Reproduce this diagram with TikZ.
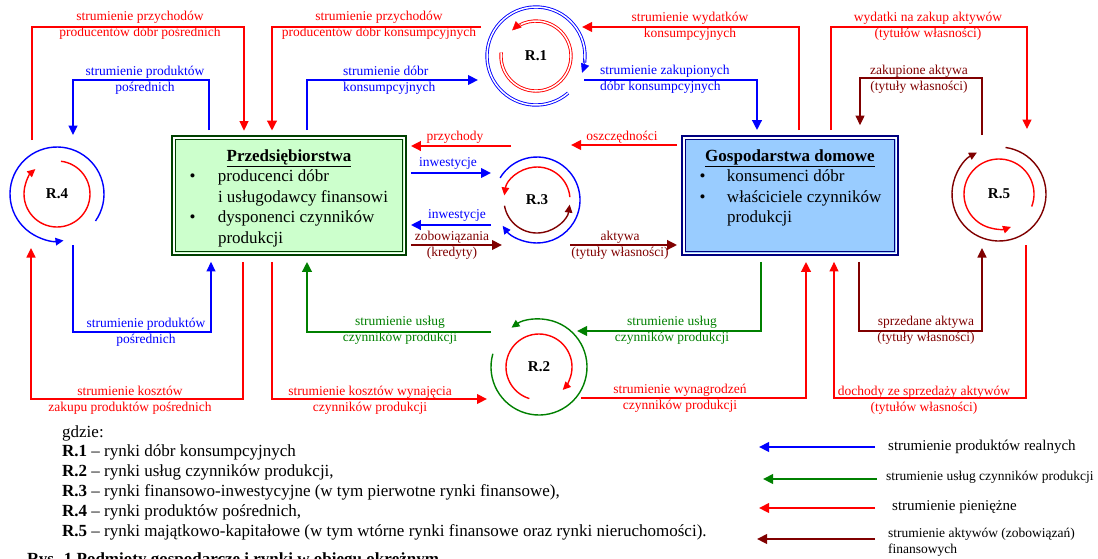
\documentclass[tikz,border=0pt]{standalone}
\usepackage{fontspec}
\setmainfont{Liberation Serif}
\usetikzlibrary{arrows.meta}
\definecolor{cR}{RGB}{255,0,0}
\definecolor{cB}{RGB}{0,0,255}
\definecolor{cG}{RGB}{0,128,0}
\definecolor{cM}{RGB}{128,0,0}
\definecolor{pfill}{RGB}{204,255,204}
\definecolor{pdraw}{RGB}{0,64,0}
\definecolor{gfill}{RGB}{153,204,255}
\definecolor{gdraw}{RGB}{0,0,128}
\newcommand\labfont{\fontsize{13.5}{16}\selectfont}
\newcommand\boxfont{\fontsize{17}{20.5}\selectfont}
\newcommand\legfont{\fontsize{17}{20}\selectfont}
\begin{document}
\begin{tikzpicture}[x=1pt,y=-1pt,
  lab/.style={font=\labfont,align=center,inner sep=0pt},
  labl/.style={font=\labfont,align=left,inner sep=0pt,anchor=west},
  thn/.style={line width=1.3pt,-{Triangle[length=9.5pt,width=9pt]}},
  thk/.style={line width=2.3pt,-{Triangle[length=10pt,width=9.5pt]}},
  ring/.style={line width=1.4pt},
  ringtip/.style={line width=1.4pt,-{Triangle[length=8pt,width=7.5pt]}},
  dring/.style={line width=0.9pt,double=white,double distance=1.5pt},
  dtip/.style={line width=0.5pt,-{Triangle[length=9pt,width=8.5pt]}},
  mkt/.style={circle,inner sep=0pt,font=\bfseries\fontsize{15}{15}\selectfont},
  pbox/.style={draw=pdraw,fill=pfill,line width=2.8pt,minimum width=233pt,minimum height=118pt,inner sep=0pt},
  gbox/.style={draw=gdraw,fill=gfill,line width=2.8pt,minimum width=215pt,minimum height=118pt,inner sep=0pt},
  legl/.style={font=\legfont,anchor=base west,inner sep=0pt},
]
\useasboundingbox[fill=white] (0,0) rectangle (1098,558);

% ---------- boxes ----------
\node[pbox] (P) at (289,195.5) {\parbox[c][118pt][t]{233pt}{\boxfont\raggedright
\vspace*{13pt}\makebox[233pt][c]{\underline{\textbf{Przedsiębiorstwa}}}\\
\hspace*{17pt}\makebox[28.5pt][l]{\textbullet}producenci dóbr\\
\hspace*{45.5pt}i usługodawcy finansowi\\
\hspace*{17pt}\makebox[28.5pt][l]{\textbullet}dysponenci czynników\\
\hspace*{45.5pt}produkcji}};
\draw[white,line width=1.6pt] ([shift={(2.6,2.6)}]P.north west) rectangle ([shift={(-2.6,-2.6)}]P.south east);
\draw[pdraw,line width=0.9pt] ([shift={(4.4,4.4)}]P.north west) rectangle ([shift={(-4.4,-4.4)}]P.south east);

\node[gbox] (G) at (790,195.5) {\parbox[c][118pt][t]{215pt}{\boxfont\raggedright
\vspace*{13pt}\makebox[215pt][c]{\underline{\textbf{Gospodarstwa domowe}}}\\
\hspace*{17pt}\makebox[27.5pt][l]{\textbullet}konsumenci dóbr\\
\hspace*{17pt}\makebox[27.5pt][l]{\textbullet}właściciele czynników\\
\hspace*{44.5pt}produkcji}};
\draw[white,line width=1.6pt] ([shift={(2.6,2.6)}]G.north west) rectangle ([shift={(-2.6,-2.6)}]G.south east);
\draw[gdraw,line width=0.9pt] ([shift={(4.4,4.4)}]G.north west) rectangle ([shift={(-4.4,-4.4)}]G.south east);

% ---------- market circles ----------
\node[mkt,minimum size=98pt] (R1) at (536,56) {R.1};
\node[mkt,minimum size=96pt] (R2) at (539,367) {R.2};
\node[mkt,minimum size=86pt] (R3) at (537,200) {R.3};
\node[mkt,minimum size=94pt] (R4) at (57,194) {R.4};
\node[mkt,minimum size=94pt] (R5) at (999,194) {R.5};

% R.1 (double lines)
\draw[cB,dring] (R1.center) ++(49:49) arc[start angle=49,end angle=368,radius=49];
\draw[cB,dtip] (R1.center) ++(364:49) arc[start angle=364,end angle=380,radius=49];
\draw[cR,dring] (R1.center) ++(-174:35) arc[start angle=-174,end angle=-480,radius=35];
\draw[cR,dtip] (R1.center) ++(-476:35) arc[start angle=-476,end angle=-493,radius=35];
% R.2
\draw[cG,ringtip] (R2.center) ++(-164:48) arc[start angle=-164,end angle=-485,radius=48];
\draw[cR,ringtip] (R2.center) ++(-253:33) arc[start angle=-253,end angle=44,radius=33];
% R.3
\draw[cB,ringtip] (R3.center) ++(-149:43) arc[start angle=-149,end angle=143,radius=43];
\draw[cR,ringtip] (R3.center) ++(-5:33) arc[start angle=-5,end angle=-172,radius=33];
\draw[cM,ringtip] (R3.center) ++(-190:33) arc[start angle=-190,end angle=-352,radius=33];
% R.4
\draw[cB,ringtip] (R4.center) ++(35:47) arc[start angle=35,end angle=-278,radius=47];
\draw[cR,ringtip] (R4.center) ++(-83:33) arc[start angle=-83,end angle=229,radius=33];
% R.5
\draw[cM,ringtip] (R5.center) ++(-82:47) arc[start angle=-82,end angle=242,radius=47];
\draw[cR,ringtip] (R5.center) ++(21:35) arc[start angle=21,end angle=-290,radius=35];

% ---------- free ends near the circles ----------
\coordinate (cA) at (32,140);   \coordinate (cC) at (73,135);
\coordinate (cC2) at (73,245);  \coordinate (cK) at (31,248);
\coordinate (cB) at (481,27);   \coordinate (cD) at (478,80);
\coordinate (cE) at (582,27);   \coordinate (cF) at (584,80);
\coordinate (cP1) at (511,146); \coordinate (cI1) at (491,173);
\coordinate (cI2) at (491,225); \coordinate (cZ) at (502,245);
\coordinate (cO) at (571,145);  \coordinate (cAk) at (570,245);
\coordinate (cW) at (487,399);  \coordinate (cGl) at (491,332);
\coordinate (cGr) at (577,331); \coordinate (cWy) at (581,398);
\coordinate (cG) at (1027,129); \coordinate (cH) at (982,135);
\coordinate (cS) at (982,248);  \coordinate (cD2) at (1026,245);

% ---------- top connectors ----------
\draw[cR,thn,shorten >=4.5pt] (cA) |- (244,27) -- (P.north -| 244,0);
\draw[cR,thk,shorten >=4.5pt] (cB) -| (P.north -| 272,0);
\draw[cB,thn,shorten <=5pt] (P.north -| 209,0) |- (73,80) -- (cC);
\draw[cB,thk,shorten <=5pt] (P.north -| 307,0) |- (cD);
\draw[cR,thk,shorten <=5pt] (G.north -| 799,0) |- (cE);
\draw[cB,thk,shorten >=5pt] (cF) -| (G.north -| 757,0);
\draw[cR,thn,shorten <=5pt] (G.north -| 831,0) |- (1027,27) -- (cG);
\draw[cM,thn,shorten >=10pt] (cH) |- (860,78) -- (G.north -| 860,0);

\node[lab,text=cR] at (140,25.5) {strumienie przychodów\\producentów dóbr pośrednich};
\node[lab,text=cR] at (379,25.5) {strumienie przychodów\\producentów dóbr konsumpcyjnych};
\node[lab,text=cB] at (145,80) {strumienie produktów\\pośrednich};
\node[labl,text=cB] at (343,80) {strumienie dóbr\\konsumpcyjnych};
\node[lab,text=cR] at (690,26.5) {strumienie wydatków\\konsumpcyjnych};
\node[labl,text=cB] at (600,79.5) {strumienie zakupionych\\dóbr konsumpcyjnych};
\node[lab,text=cR] at (928,26.5) {wydatki na zakup aktywów\\(tytułów własności)};
\node[lab,text=cM] at (919,79.5) {zakupione aktywa\\(tytuły własności)};

% ---------- middle connectors ----------
\draw[cR,thk,shorten >=4pt] (cP1) -- (P.east |- cP1);
\draw[cB,thk,shorten <=4pt] (P.east |- cI1) -- (cI1);
\draw[cB,thk,shorten >=4pt] (cI2) -- (P.east |- cI2);
\draw[cM,thk,shorten <=4pt] (P.east |- cZ) -- (cZ);
\draw[cR,thk,shorten <=4pt] (G.west |- cO) -- (cO);
\draw[cM,thk,shorten >=4pt] (cAk) -- (G.west |- cAk);

\node[lab,text=cR] at (455,137) {przychody};
\node[lab,text=cB] at (448,163) {inwestycje};
\node[lab,text=cB] at (457,215) {inwestycje};
\node[lab,text=cM] at (452,245.5) {zobowiązania\\(kredyty)};
\node[lab,text=cR] at (622,137) {oszczędności};
\node[lab,text=cM] at (620,245) {aktywa\\(tytuły własności)};

% ---------- bottom connectors ----------
\draw[cB,thn,shorten >=6pt] (cC2) |- (211,332) -- (P.south -| 211,0);
\draw[cR,thn,shorten <=6pt] (P.south -| 243,0) |- (31,399) -- (cK);
\draw[cR,thk,shorten <=6pt] (P.south -| 272,0) |- (cW);
\draw[cG,thk,shorten >=6pt] (cGl) -| (P.south -| 307,0);
\draw[cG,thk,shorten <=6pt] (G.south -| 761,0) |- (cGr);
\draw[cR,thk,shorten >=6pt] (cWy) -| (G.south -| 806,0);
\draw[cM,thn,shorten <=6pt] (G.south -| 859,0) |- (982,331) -- (cS);
\draw[cR,thn,shorten >=6pt] (cD2) |- (834,398) -- (G.south -| 834,0);

\node[lab,text=cB] at (146,332.5) {strumienie produktów\\pośrednich};
\node[lab,text=cR] at (130,400) {strumienie kosztów\\zakupu produktów pośrednich};
\node[lab,text=cG] at (400,330) {strumienie usług\\czynników produkcji};
\node[lab,text=cR] at (370,400) {strumienie kosztów wynajęcia\\czynników produkcji};
\node[lab,text=cG] at (672,330) {strumienie usług\\czynników produkcji};
\node[lab,text=cR] at (680,398) {strumienie wynagrodzeń\\czynników produkcji};
\node[lab,text=cM] at (926,330) {sprzedane aktywa\\(tytuły własności)};
\node[lab,text=cR] at (924,400.5) {dochody ze sprzedaży aktywów\\(tytułów własności)};

% ---------- legend (left) ----------
\node[legl] (l0) at (62,437.5) {gdzie:};
\node[legl] (l1) at (62,456.5) {\textbf{R.1} – rynki dóbr konsumpcyjnych};
\node[legl] (l2) at (62,476.5) {\textbf{R.2} – rynki usług czynników produkcji,};
\node[legl] (l3) at (62,496.5) {\textbf{R.3} – rynki finansowo-inwestycyjne (w tym pierwotne rynki finansowe),};
\node[legl] (l4) at (62,516.5) {\textbf{R.4} – rynki produktów pośrednich,};
\node[legl] (l5) at (62,536.5) {\textbf{R.5} – rynki majątkowo-kapitałowe (w tym wtórne rynki finansowe oraz rynki nieruchomości).};
\node[legl,font=\legfont\bfseries] (l6) at (27,564) {Rys. 1 Podmioty gospodarcze i rynki w obiegu okrężnym};

% ---------- legend (right) ----------
\coordinate (k1a) at (875,447); \coordinate (k1b) at (759,447);
\coordinate (k2a) at (877,479); \coordinate (k2b) at (763,479);
\coordinate (k3a) at (875,508); \coordinate (k3b) at (759,508);
\coordinate (k4a) at (875,539); \coordinate (k4b) at (757,539);
\draw[cB,thk] (k1a) -- (k1b);
\draw[cG,thk] (k2a) -- (k2b);
\draw[cR,thk] (k3a) -- (k3b);
\draw[cM,thk] (k4a) -- (k4b);
\node[anchor=west,inner sep=0pt,font=\fontsize{15}{17}\selectfont] at (888,447) {strumienie produktów realnych};
\node[anchor=west,inner sep=0pt,font=\fontsize{13.5}{15}\selectfont] at (886,477) {strumienie usług czynników produkcji};
\node[anchor=west,inner sep=0pt,font=\fontsize{15}{17}\selectfont] at (892,507) {strumienie pieniężne};
\node[anchor=west,inner sep=0pt,align=left,font=\fontsize{13.5}{15.5}\selectfont] at (888,542.5) {strumienie aktywów (zobowiązań)\\finansowych};
\end{tikzpicture}
\end{document}
